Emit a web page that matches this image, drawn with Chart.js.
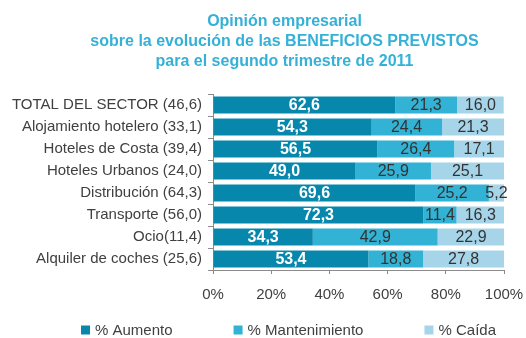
<!DOCTYPE html>
<html>
<head>
<meta charset="utf-8">
<script src="https://cdn.jsdelivr.net/npm/chart.js@4/dist/chart.umd.min.js"></script>
<style>
  body { margin: 0; background: #fff; }
  canvas { display: block; }
</style>
</head>
<body>
<canvas id="beneficios-chart" width="526" height="338"></canvas>
<script>
// Opinión empresarial - beneficios previstos 2T 2011
var titleLines = [
  "Opinión empresarial",
  "sobre la evolución de las BENEFICIOS PREVISTOS",
  "para el segundo trimestre de 2011"
];
var sectores = [
  "TOTAL DEL SECTOR (46,6)",
  "Alojamiento hotelero (33,1)",
  "Hoteles de Costa (39,4)",
  "Hoteles Urbanos (24,0)",
  "Distribución (64,3)",
  "Transporte (56,0)",
  "Ocio(11,4)",
  "Alquiler de coches (25,6)"
];
var aumento = [62.6, 54.3, 56.5, 49.0, 69.6, 72.3, 34.3, 53.4];
var mantenimiento = [21.3, 24.4, 26.4, 25.9, 25.2, 11.4, 42.9, 18.8];
var caida = [16.0, 21.3, 17.1, 25.1, 5.2, 16.3, 22.9, 27.8];
var xTicks = [0, 20, 40, 60, 80, 100];

var FONT = '"Liberation Sans", Arial, sans-serif';
var TEXT = '#404040';
var AXIS = '#8c8c8c';

function fmt(v) {
  return v.toFixed(1).replace('.', ',');
}

// value labels centred in each segment
var barLabels = {
  id: 'barLabels',
  afterDatasetsDraw: function (chart) {
    var ctx = chart.ctx;
    ctx.save();
    ctx.textAlign = 'center';
    ctx.textBaseline = 'middle';
    chart.data.datasets.forEach(function (ds, i) {
      var meta = chart.getDatasetMeta(i);
      ctx.font = (i === 0 ? 'bold ' : '') + '16px ' + FONT;
      ctx.fillStyle = i === 0 ? '#ffffff' : '#333333';
      meta.data.forEach(function (bar, j) {
        var p = bar.getProps(['x', 'y', 'base'], true);
        ctx.fillText(fmt(ds.data[j]), (p.x + p.base) / 2, p.y + 1);
      });
    });
    ctx.restore();
  }
};

// title block and legend row
var frame = {
  id: 'frame',
  afterDraw: function (chart) {
    var ctx = chart.ctx;
    ctx.save();
    ctx.fillStyle = '#35b1d7';
    ctx.font = 'bold 16px ' + FONT;
    ctx.textAlign = 'center';
    ctx.textBaseline = 'alphabetic';
    titleLines.forEach(function (t, i) {
      ctx.fillText(t, 284.5, 26 + i * 20);
    });

    ctx.font = '15px ' + FONT;
    ctx.textAlign = 'left';
    ctx.textBaseline = 'middle';
    var box = 9, gap = 5, spacing = 61, cy = 330;
    var items = chart.data.datasets.map(function (ds) {
      return { text: ds.label, color: ds.backgroundColor, w: box + gap + ctx.measureText(ds.label).width };
    });
    var total = items.reduce(function (a, it) { return a + it.w; }, 0) + spacing * (items.length - 1);
    var x = 288.5 - total / 2;
    items.forEach(function (it) {
      ctx.fillStyle = it.color;
      ctx.fillRect(x, cy - box / 2, box, box);
      ctx.fillStyle = TEXT;
      ctx.fillText(it.text, x + box + gap, cy + 1);
      x += it.w + spacing;
    });
    ctx.restore();
  }
};

var data = {
  labels: sectores,
  datasets: [
    { label: '% Aumento', data: aumento, backgroundColor: '#0787ab' },
    { label: '% Mantenimiento', data: mantenimiento, backgroundColor: '#32b2d4' },
    { label: '% Caída', data: caida, backgroundColor: '#a6d5ea' }
  ]
};

var ctx = document.getElementById('beneficios-chart').getContext('2d');
var myChart = new Chart(ctx, {
  type: 'bar',
  data: data,
  plugins: [barLabels, frame],
  options: {
    indexAxis: 'y',
    responsive: false,
    animation: false,
    datasets: {
      bar: { barPercentage: 0.78, categoryPercentage: 1, borderWidth: 0 }
    },
    layout: { padding: { top: 94, right: 22, bottom: 38, left: 0 } },
    plugins: {
      legend: { display: false },
      title: { display: false },
      tooltip: { enabled: false }
    },
    scales: {
      x: {
        stacked: true,
        min: 0,
        max: 100,
        afterBuildTicks: function (scale) {
          scale.ticks = xTicks.map(function (v) { return { value: v }; });
        },
        afterFit: function (scale) {
          scale.height = 30;
          scale.paddingLeft = 0;
          scale.paddingRight = 0;
        },
        border: { display: true, color: AXIS, width: 1 },
        grid: { drawOnChartArea: false, drawTicks: true, tickLength: 4, color: AXIS },
        ticks: {
          padding: 12,
          color: TEXT,
          font: { family: FONT, size: 15 },
          maxRotation: 0,
          callback: function (v) { return v + '%'; }
        }
      },
      y: {
        stacked: true,
        afterFit: function (scale) {
          scale.width = 213;
          scale.paddingTop = 0;
          scale.paddingBottom = 0;
        },
        border: { display: true, color: AXIS, width: 1 },
        grid: { drawOnChartArea: false, drawTicks: true, tickLength: 5, color: AXIS, offset: true },
        ticks: {
          padding: 6,
          color: TEXT,
          font: { family: FONT, size: 15 }
        }
      }
    }
  }
});
</script>
</body>
</html>
